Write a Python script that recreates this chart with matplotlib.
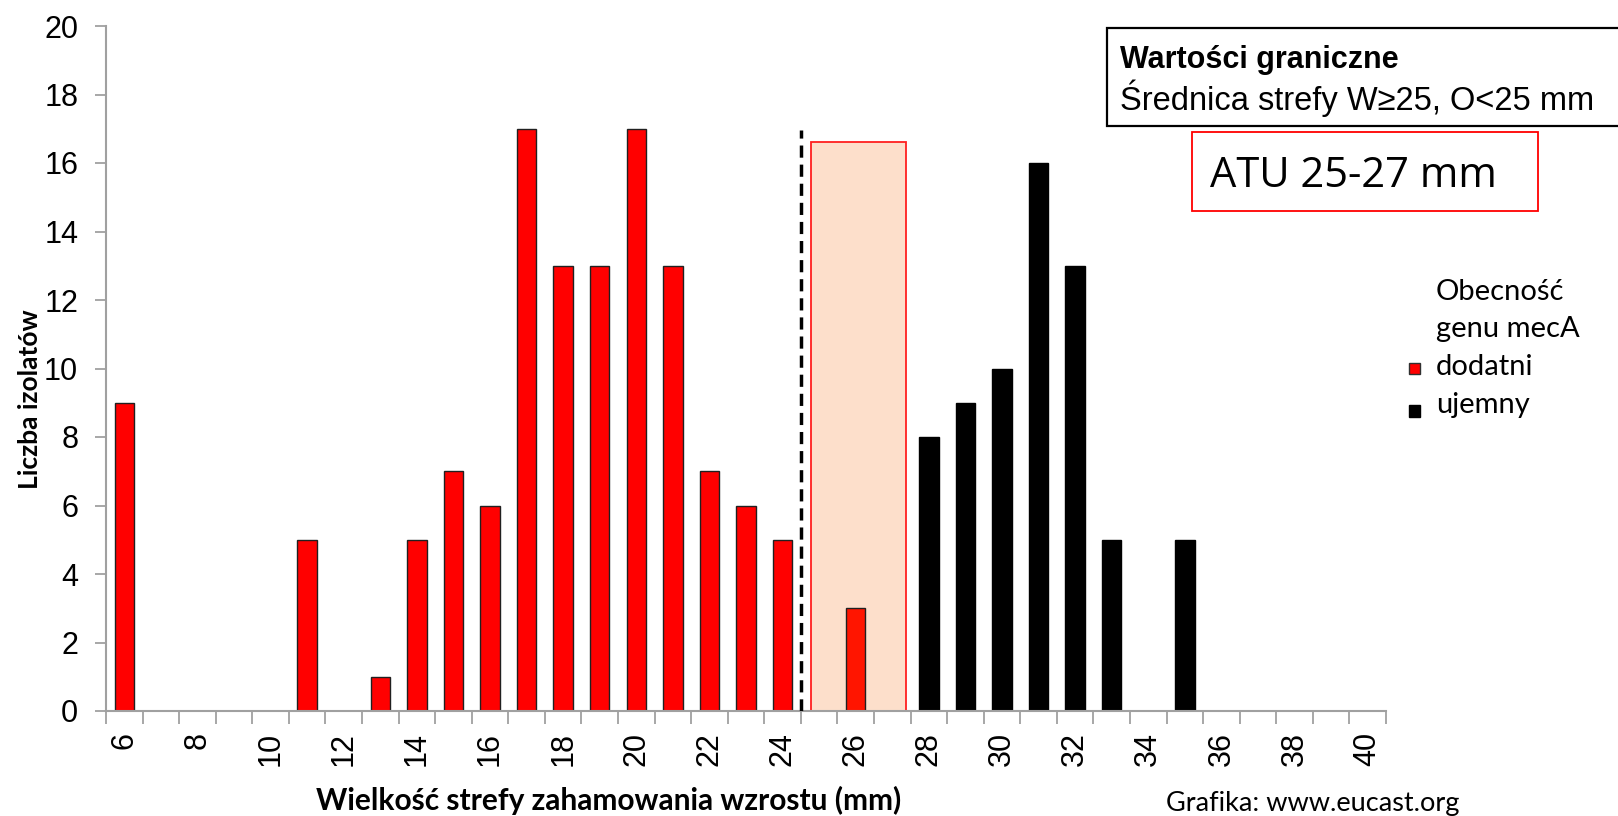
import matplotlib
matplotlib.use('Agg')
import matplotlib.pyplot as plt
from matplotlib.patches import Rectangle

# Dane: wielkość strefy (mm) i liczba izolatów
strefa_red = [6, 7, 8, 9, 10, 11, 12, 13, 14, 15, 16, 17, 18, 19, 20, 21, 22, 23, 24, 25, 26]
liczba_red = [9, 0, 0, 0, 0, 5, 0, 1, 5, 7, 6, 17, 13, 13, 17, 13, 7, 6, 5, 0, 3]
strefa_black = [28, 29, 30, 31, 32, 33, 34, 35]
liczba_black = [8, 9, 10, 16, 13, 5, 0, 5]
xtick_labels = list(range(6, 41, 2))
ytick_labels = list(range(0, 21, 2))

W, H = 1618, 816
fig = plt.figure(figsize=(W / 100, H / 100), dpi=100)


def fx(px):
    return px / W


def fy(py):
    return 1 - py / H


ax = fig.add_axes([fx(106), fy(711), fx(1386) - fx(106), (711 - 26) / H])

# obszar ATU
ax.add_patch(Rectangle((24.78, 0), 2.6, 16.6, facecolor='#fddfcb', edgecolor='#ff2020', lw=1.3, zorder=1))

red_cols = ['#ff0000'] * (len(strefa_red) - 1) + ['#ff1500']
ax.bar(strefa_red, liczba_red, width=0.53, color=red_cols, edgecolor='#202020', lw=1, zorder=2)
ax.bar(strefa_black, liczba_black, width=0.53, color='black', edgecolor='black', lw=1, zorder=2)

ax.plot([24.5, 24.5], [0, 16.95], color='black', lw=2.5, ls=(0, (3.5, 2)), zorder=3)

ax.set_xlim(5.5, 40.5)
ax.set_ylim(0, 20)
ax.set_xticks(xtick_labels)
ax.set_xticks([v + 0.5 for v in range(5, 41)], minor=True)
ax.set_yticks(ytick_labels)
ax.tick_params(axis='x', which='major', length=0, pad=15, labelrotation=90)
ax.tick_params(axis='x', which='minor', length=9, color='#a0a0a0', width=1.3)
ax.tick_params(axis='y', length=8, color='#a0a0a0', width=1.3, pad=12)
ax.set_xticklabels([str(v) for v in xtick_labels], fontsize=22, family='Liberation Sans', rotation=90)
ax.set_yticklabels([str(v) for v in ytick_labels], fontsize=22, family='Liberation Sans')
for s in ['top', 'right']:
    ax.spines[s].set_visible(False)
for s in ['left', 'bottom']:
    ax.spines[s].set_color('#a0a0a0')
    ax.spines[s].set_linewidth(1.5)

ax.set_ylabel('Liczba izolatów', fontsize=19, fontweight='bold', family='Lato')
ax.yaxis.set_label_coords(-0.05, 0.455)
fig.text(fx(609), fy(800), 'Wielkość strefy zahamowania wzrostu (mm)', fontsize=21.5, fontweight='bold',
         family='Lato', ha='center', va='center')
fig.text(fx(1166), fy(803), 'Grafika: www.eucast.org', fontsize=19.5, family='Lato', ha='left', va='center')

# ramka z wartościami granicznymi
fig.add_artist(Rectangle((fx(1107), fy(126)), fx(600), 98 / H, transform=fig.transFigure,
                         facecolor='white', edgecolor='black', lw=1.6))
fig.text(fx(1120), fy(60), 'Wartości graniczne', fontsize=22, fontweight='bold',
         family='Liberation Sans', va='center')
fig.text(fx(1120), fy(98), 'Średnica strefy W≥25, O<25 mm', fontsize=23.5,
         family='Liberation Sans', va='center')

fig.add_artist(Rectangle((fx(1192), fy(211)), fx(1538 - 1192), 79 / H, transform=fig.transFigure,
                         facecolor='white', edgecolor='#ff0000', lw=1.3))
fig.text(fx(1210), fy(176), 'ATU 25-27 mm', fontsize=30, family='Open Sans', va='center')

# legenda
fig.text(fx(1436), fy(292), 'Obecność', fontsize=21, family='Lato', va='center')
fig.text(fx(1436), fy(329), 'genu mecA', fontsize=21, family='Lato', va='center')
fig.text(fx(1436), fy(367), 'dodatni', fontsize=21, family='Lato', va='center')
fig.text(fx(1436), fy(405), 'ujemny', fontsize=21, family='Lato', va='center')
fig.add_artist(Rectangle((fx(1409), fy(374)), fx(11), 11 / H, transform=fig.transFigure,
                         facecolor='#ff0000', edgecolor='#303030', lw=1))
fig.add_artist(Rectangle((fx(1409), fy(417)), fx(11), 12 / H, transform=fig.transFigure,
                         facecolor='black', edgecolor='black', lw=1))

fig.savefig('out.png', dpi=100)
